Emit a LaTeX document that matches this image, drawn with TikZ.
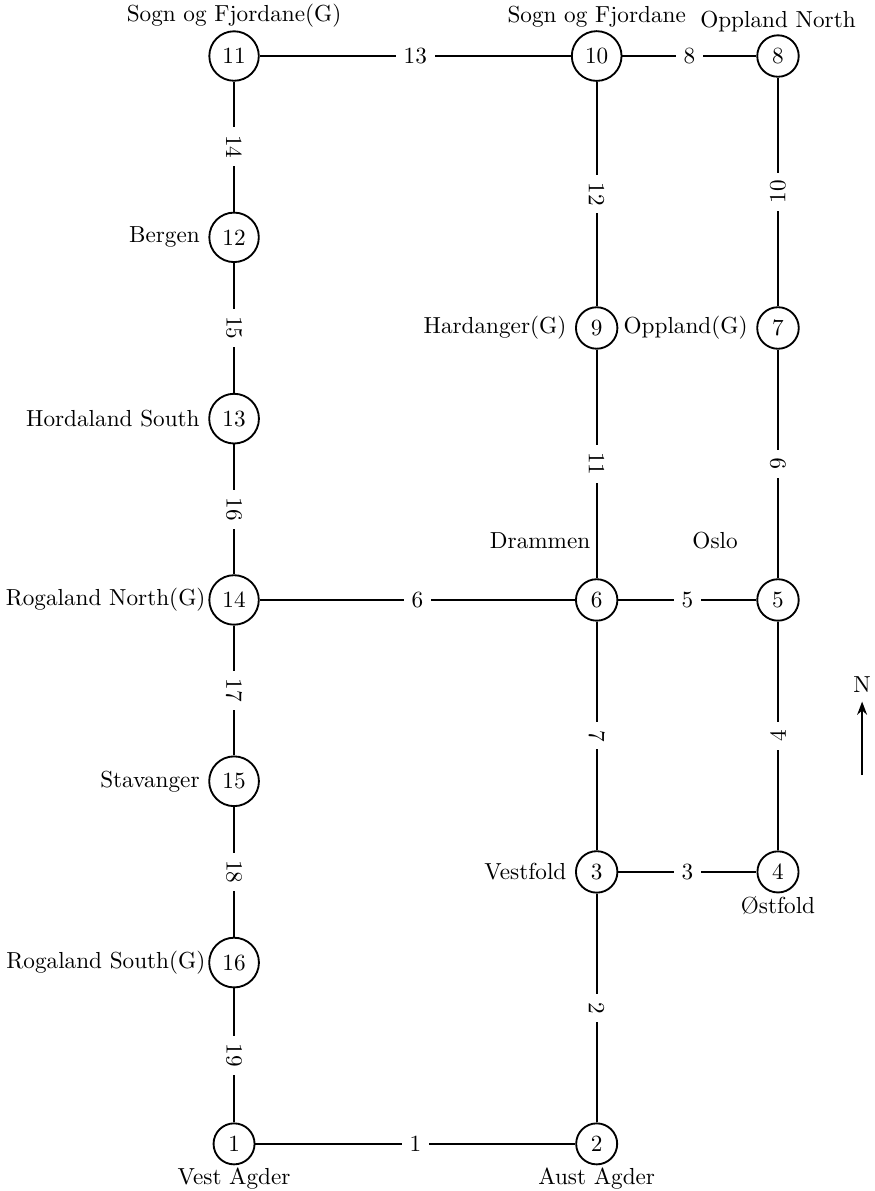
\documentclass[tikz,border=0pt]{standalone}
\usetikzlibrary{arrows.meta}

\tikzset{every picture/.style={line width=0.8pt}}
\tikzset{
  station/.style={draw, circle, fill=white},
  toplabel/.style={label={[label distance=-2.5pt]above:#1}},
  bottomlabel/.style={label={[label distance=-2.5pt]below:#1}},
  linklabel/.style={midway, fill=white},
  downlabel/.style={linklabel, rotate=-90},
  uplabel/.style={linklabel, rotate=90},
}

\begin{document}
\begin{tikzpicture}[x=78.15pt,y=78.15pt]
\useasboundingbox (-1.291,0.309) rectangle (3.530,-6.260);

% stations, west column
\node[station, toplabel=Sogn og Fjordane(G)] (n11) at (0,0) {11};
\node[station, label=left:Bergen] (n12) at (0,-1) {12};
\node[station, label=left:Hordaland South] (n13) at (0,-2) {13};
\node[station, label={[xshift=2.5pt]left:Rogaland North(G)}] (n14) at (0,-3) {14};
\node[station, label=left:Stavanger] (n15) at (0,-4) {15};
\node[station, label={[xshift=2.5pt]left:Rogaland South(G)}] (n16) at (0,-5) {16};
\node[station, bottomlabel=Vest Agder] (n1) at (0,-6) {1};

% stations, middle column
\node[station, toplabel=Sogn og Fjordane] (n10) at (2,0) {10};
\node[station, label=left:Hardanger(G)] (n9) at (2,-1.5) {9};
\node[station] (n6) at (2,-3) {6};
\node[station, label=left:Vestfold] (n3) at (2,-4.5) {3};
\node[station, bottomlabel=Aust Agder] (n2) at (2,-6) {2};

% stations, east column
\node[station, toplabel=Oppland North] (n8) at (3,0) {8};
\node[station, label=left:Oppland(G)] (n7) at (3,-1.5) {7};
\node[station] (n5) at (3,-3) {5};
\node[station, bottomlabel=\O{}stfold] (n4) at (3,-4.5) {4};

% free names
\node (lDrammen) at (1.688,-2.675) {Drammen};
\node (lOslo) at (2.653,-2.675) {Oslo};

% links
\draw (n11) -- node[linklabel]{13} (n10);
\draw (n10) -- node[linklabel]{8} (n8);
\draw (n14) -- node[linklabel]{6} (n6);
\draw (n6) -- node[linklabel]{5} (n5);
\draw (n3) -- node[linklabel]{3} (n4);
\draw (n1) -- node[linklabel]{1} (n2);

\draw (n11) -- node[downlabel]{14} (n12);
\draw (n12) -- node[downlabel]{15} (n13);
\draw (n13) -- node[downlabel]{16} (n14);
\draw (n14) -- node[downlabel]{17} (n15);
\draw (n15) -- node[downlabel]{18} (n16);
\draw (n16) -- node[downlabel]{19} (n1);

\draw (n10) -- node[downlabel]{12} (n9);
\draw (n9) -- node[downlabel]{11} (n6);
\draw (n6) -- node[downlabel]{7} (n3);
\draw (n3) -- node[downlabel]{2} (n2);

\draw (n4) -- node[uplabel]{4} (n5);
\draw (n5) -- node[uplabel]{9} (n7);
\draw (n7) -- node[uplabel]{10} (n8);

% north arrow
\coordinate (compassfoot) at (3.464,-3.966);
\node (compass) at (3.464,-3.469) {N};
\draw[-{Stealth}, line width=0.6pt] (compassfoot) -- (compass.south);

\end{tikzpicture}
\end{document}
